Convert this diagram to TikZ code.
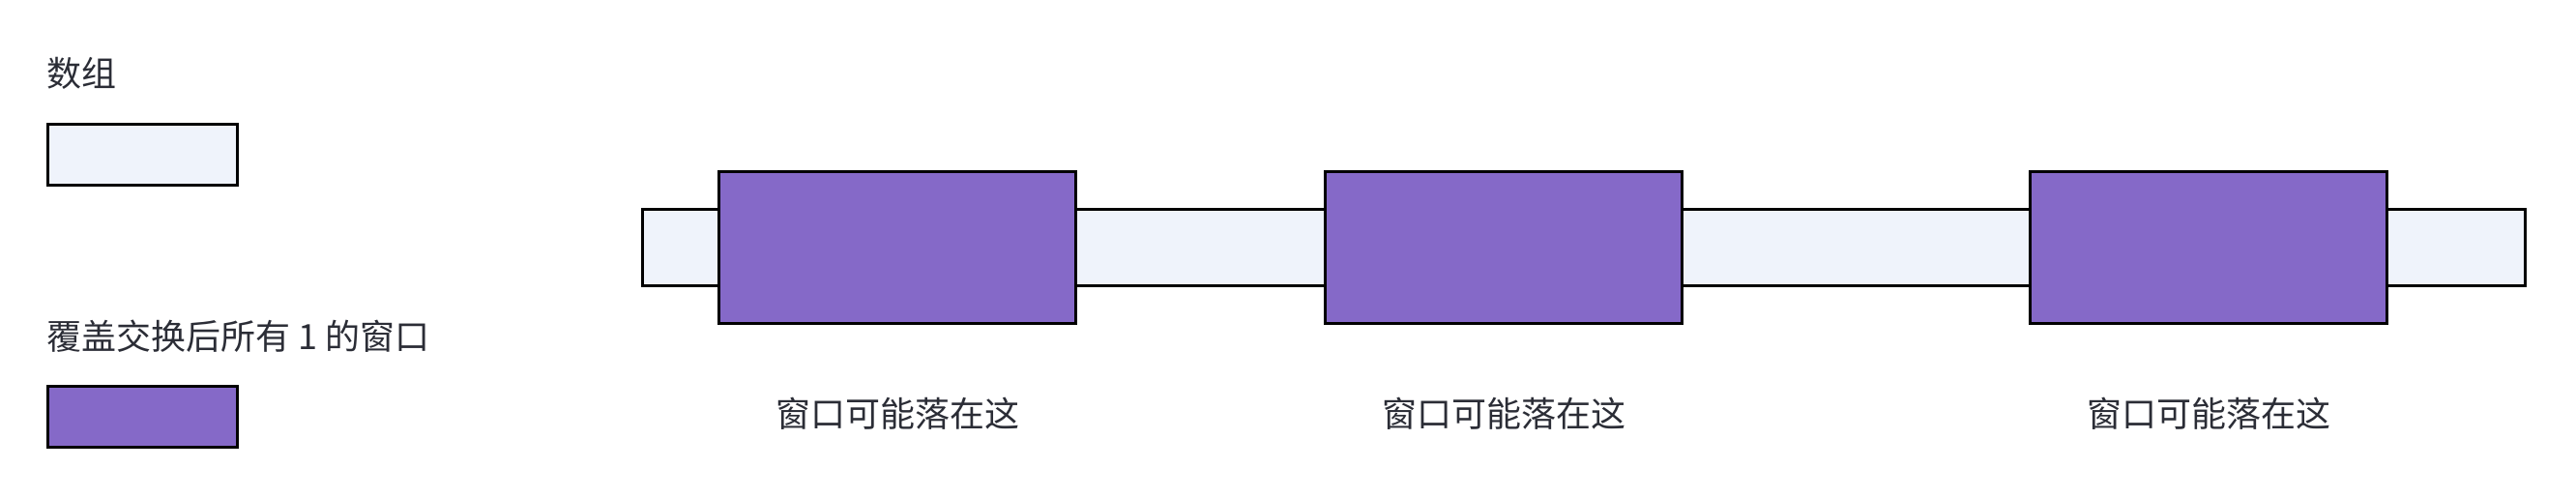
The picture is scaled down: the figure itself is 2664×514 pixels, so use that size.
\documentclass[tikz,border=0pt]{standalone}
\usepackage{fontspec}
\setmainfont{Noto Sans CJK SC}
\usetikzlibrary{positioning}
\definecolor{arrayfill}{HTML}{EFF3FB}
\definecolor{windowfill}{HTML}{8569C8}
\definecolor{labeltext}{HTML}{2B2D36}

\begin{document}
\begin{tikzpicture}[x=0.5pt, y=-0.5pt,
	box/.style={draw=black, line width=1.7pt, inner sep=0pt},
	arr/.style={box, fill=arrayfill},
	win/.style={box, fill=windowfill, minimum width=184.5pt, minimum height=78.5pt},
	lbl/.style={text=labeltext, font=\fontsize{18}{22}\selectfont, inner sep=0pt}]
	\useasboundingbox (0,0) rectangle (2664,514);
	
	% legend
	\node[lbl, anchor=west] (keyarr) at (48,76) {数组};
	\node[arr, minimum width=98pt, minimum height=31.5pt] (keyarrbox) at (147.5,160) {};
	\node[lbl, anchor=west] (keywin) at (48,348) {覆盖交换后所有 1 的窗口};
	\node[win, minimum width=98pt, minimum height=31.5pt] (keywinbox) at (147.5,431) {};
	
	% array with the windows on top
	\node[arr, minimum width=973.5pt, minimum height=39.5pt] (array) at (1638,256) {};
	\foreach \i/\x in {1/928, 2/1555, 3/2284} {
		\node[win] (win\i) at (\x,256) {};
		\node[lbl, below=46pt of win\i.south, anchor=center] (place\i) {窗口可能落在这};
	}
\end{tikzpicture}
\end{document}
